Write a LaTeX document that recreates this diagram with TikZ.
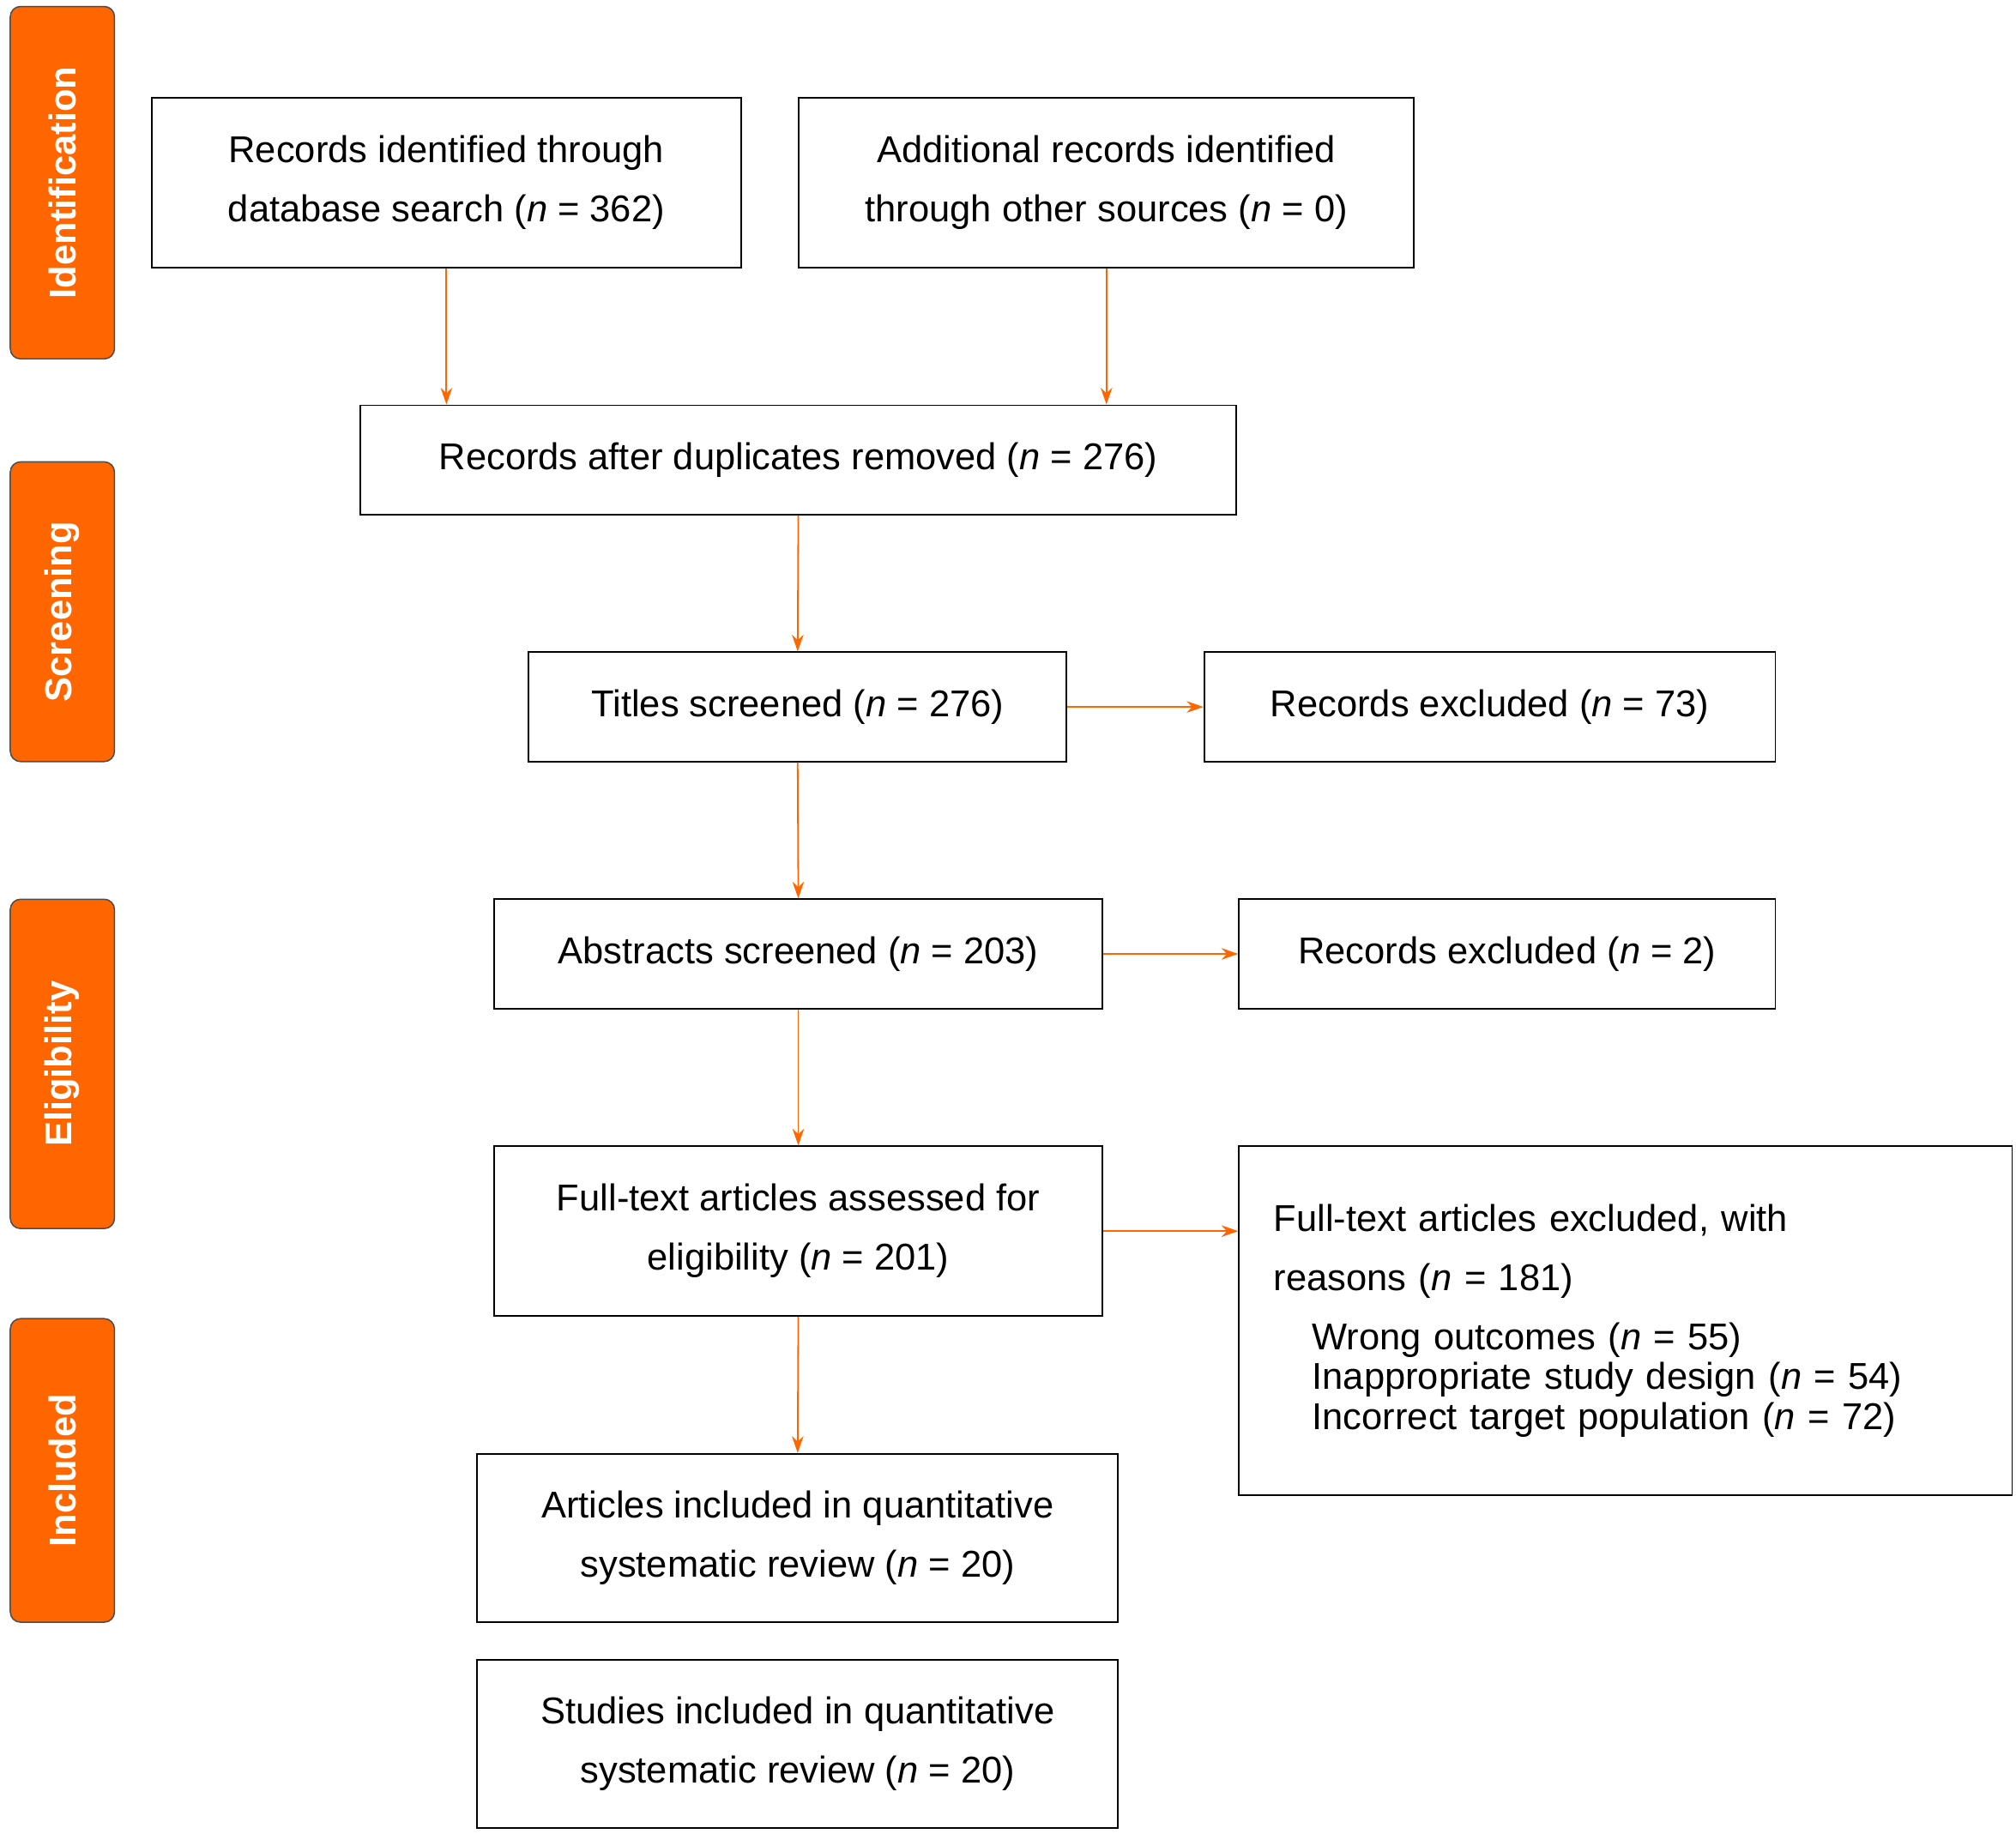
\documentclass[tikz,border=0pt]{standalone}
\usepackage{fontspec}
\setmainfont{Liberation Sans}
\usetikzlibrary{arrows.meta}
\definecolor{org}{HTML}{FF6600}
\begin{document}
\begin{tikzpicture}[x=1pt,y=-1pt,
 box/.style={draw,line width=1.2pt,inner sep=0pt,align=center,font=\fontsize{29}{46}\selectfont},
 side/.style={fill=org,draw=black!70,line width=1pt,rounded corners=8pt,inner sep=0pt},
 sidetext/.style={text=white,font=\bfseries\fontsize{29}{34}\selectfont,rotate=90},
 arr/.style={draw=org,line width=1.2pt,-{Stealth[length=13pt,width=9pt]}}]
\useasboundingbox (0,0) rectangle (1567,1425);
\newcommand{\bx}[6]{\node[box,minimum width=#4-#2,minimum height=#5-#3] (#1) at ({(#2+#4)/2},{(#3+#5)/2}) {#6};}
\newcommand{\nn}{\textit{n}}
\bx{A}{118}{76}{576}{208}{Records identified through\\database search (\nn{} = 362)}
\bx{B}{621}{76}{1099}{208}{Additional records identified\\through other sources (\nn{} = 0)}
\bx{C}{280}{315}{961}{400}{Records after duplicates removed (\nn{} = 276)}
\bx{D}{411}{507}{829}{592}{Titles screened (\nn{} = 276)}
\bx{E}{936}{507}{1380}{592}{Records excluded (\nn{} = 73)}
\bx{F}{384}{699}{857}{784}{Abstracts screened (\nn{} = 203)}
\bx{G}{963}{699}{1380}{784}{Records excluded (\nn{} = 2)}
\bx{H}{384}{891}{857}{1023}{Full-text articles assessed for\\eligibility (\nn{} = 201)}
\node[box,minimum width=601,minimum height=271,align=left,text width=547] (I) at (1263.5,1026.5)
 {Full-text articles excluded, with\\reasons (\nn{} = 181)\\
 \hspace*{30pt}Wrong outcomes (\nn{} = 55)\\[-15pt]
 \hspace*{30pt}Inappropriate study design (\nn{} = 54)\\[-15pt]
 \hspace*{30pt}Incorrect target population (\nn{} = 72)};
\bx{J}{371}{1130}{869}{1261}{Articles included in quantitative\\systematic review (\nn{} = 20)}
\bx{K}{371}{1290}{869}{1421}{Studies included in quantitative\\systematic review (\nn{} = 20)}
\node[side,minimum width=81,minimum height=274] (s1) at (48.5,142) {};
\node[sidetext] (t1) at (s1) {Identification};
\node[side,minimum width=81,minimum height=233] (s2) at (48.5,475.5) {};
\node[sidetext] (t2) at (s2) {Screening};
\node[side,minimum width=81,minimum height=256] (s3) at (48.5,827) {};
\node[sidetext] (t3) at (s3) {Eligibility};
\node[side,minimum width=81,minimum height=236] (s4) at (48.5,1143) {};
\node[sidetext] (t4) at (s4) {Included};
\draw[arr] (A.south) -- (A.south |- C.north);
\draw[arr] (B.south) -- (B.south |- C.north);
\draw[arr] (C.south) -- (D.north);
\draw[arr] (D.east) -- (E.west);
\draw[arr] (D.south) -- (F.north);
\draw[arr] (F.east) -- (G.west);
\draw[arr] (F.south) -- (H.north);
\draw[arr] (H.east) -- (H.east -| I.west);
\draw[arr] (H.south) -- (J.north);
\end{tikzpicture}
\end{document}
